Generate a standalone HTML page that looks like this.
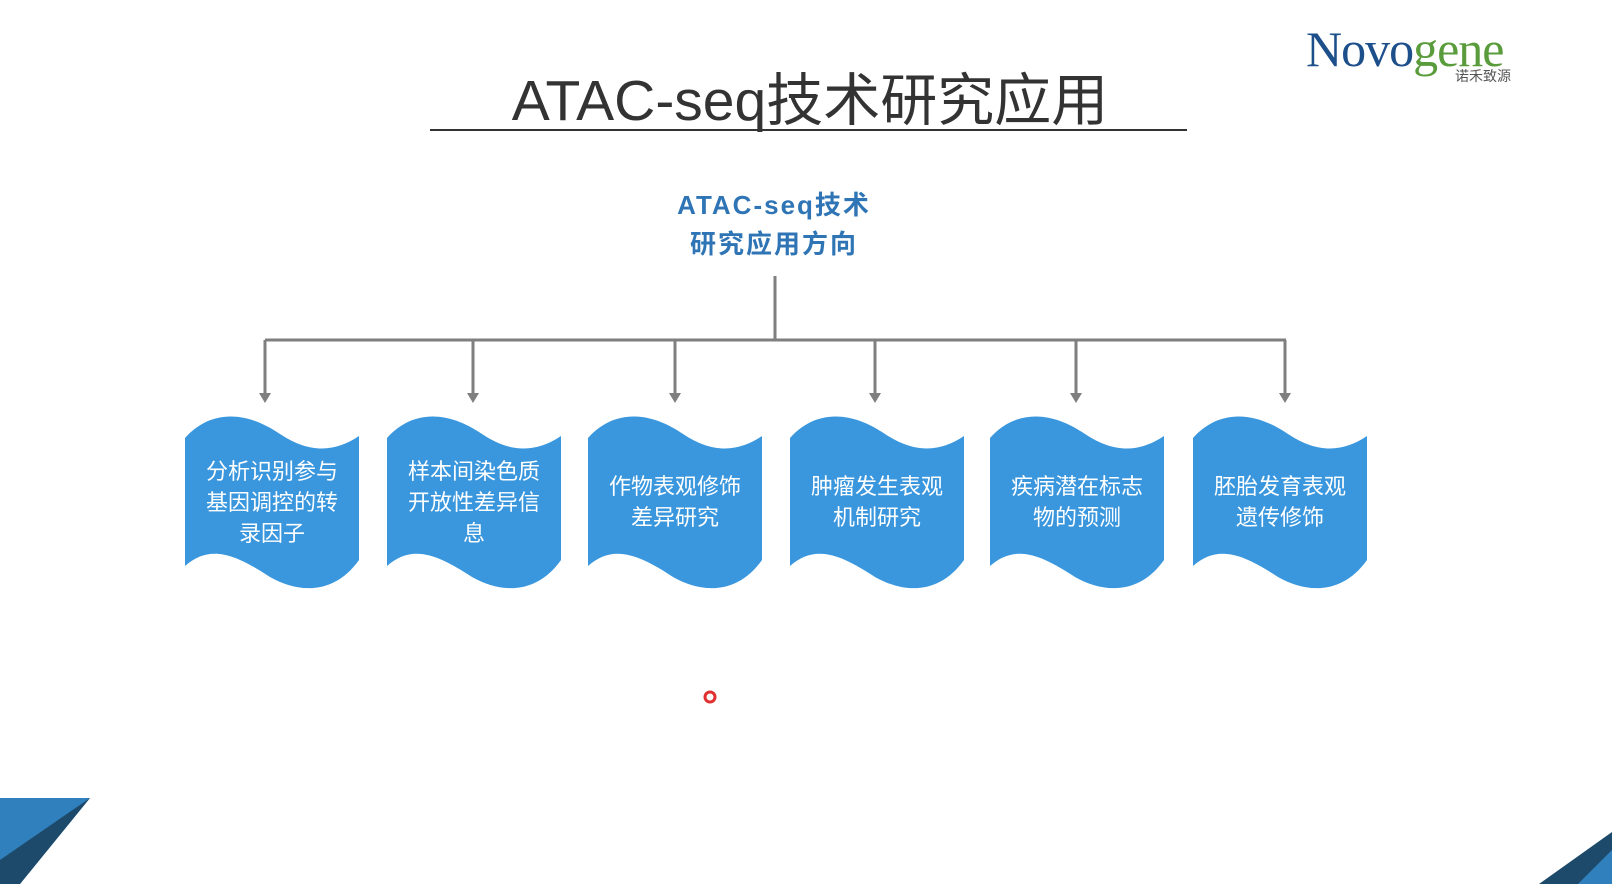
<!DOCTYPE html>
<html><head><meta charset="utf-8"><style>
body{margin:0;width:1612px;height:884px;background:#fff;position:relative;overflow:hidden;font-family:"Liberation Sans","Noto Sans CJK SC",sans-serif}
.t{position:absolute;white-space:nowrap}
</style></head><body>
<div class="t" style="left:4px;width:1612px;text-align:center;top:55px;font-size:57px;color:#333">ATAC-seq技术研究应用</div>
<div style="position:absolute;left:430px;top:129px;width:757px;height:2px;background:#333"></div>
<div class="t" style="left:574px;width:400px;text-align:center;top:186px;font-size:26px;font-weight:bold;color:#2f75b5;line-height:39px;letter-spacing:2px">ATAC-seq技术<br>研究应用方向</div>
<div class="t" style="left:1306px;top:20px;font-family:'Liberation Serif',serif;font-size:50px;color:#1d4f8a;letter-spacing:-1px">Novo<span style="color:#5a9c3c">gene</span></div>
<div class="t" style="left:1455px;top:66px;font-size:14px;color:#555">诺禾致源</div>
<svg width="1612" height="884" style="position:absolute;left:0;top:0">
<g stroke="#7f7f7f" stroke-width="3" fill="none">
<line x1="775" y1="276" x2="775" y2="340"/>
<line x1="265" y1="340" x2="1286" y2="340"/>
<line x1="265" y1="340" x2="265" y2="396"/><line x1="473" y1="340" x2="473" y2="396"/><line x1="675" y1="340" x2="675" y2="396"/><line x1="875" y1="340" x2="875" y2="396"/><line x1="1076" y1="340" x2="1076" y2="396"/><line x1="1285" y1="340" x2="1285" y2="396"/>
</g>
<g fill="#7f7f7f">
<path d="M259 393h12l-6 10z"/><path d="M467 393h12l-6 10z"/><path d="M669 393h12l-6 10z"/><path d="M869 393h12l-6 10z"/><path d="M1070 393h12l-6 10z"/><path d="M1279 393h12l-6 10z"/>
</g>
<defs><path id="w" d="M0 26 C25 -2,60 -2,95 22 C125 42,150 40,174 24 L174 148 C150 182,115 182,85 165 C50 142,25 132,0 154 Z" fill="#3a97de"/></defs>
<use href="#w" x="185" y="412"/><use href="#w" x="387" y="412"/><use href="#w" x="588" y="412"/><use href="#w" x="790" y="412"/><use href="#w" x="990" y="412"/><use href="#w" x="1193" y="412"/>
<circle cx="710" cy="697" r="5" fill="#fff" stroke="#e03030" stroke-width="3"/>
<path d="M0 798 L90 798 L20 884 L0 884Z" fill="#2f80bd"/>
<path d="M90 798 L20 884 L0 884 L0 860Z" fill="#1d4a6a"/>
<path d="M1612 832 L1612 884 L1539 884Z" fill="#1d4a6a"/>
<path d="M1612 850 L1612 884 L1578 884Z" fill="#2f80bd"/>
</svg>
<div class="t" style="left:185px;width:174px;text-align:center;top:456px;font-size:22px;color:#fff;line-height:31px">分析识别参与<br>基因调控的转<br>录因子</div>
<div class="t" style="left:387px;width:174px;text-align:center;top:456px;font-size:22px;color:#fff;line-height:31px">样本间染色质<br>开放性差异信<br>息</div>
<div class="t" style="left:588px;width:174px;text-align:center;top:471px;font-size:22px;color:#fff;line-height:31px">作物表观修饰<br>差异研究</div>
<div class="t" style="left:790px;width:174px;text-align:center;top:471px;font-size:22px;color:#fff;line-height:31px">肿瘤发生表观<br>机制研究</div>
<div class="t" style="left:990px;width:174px;text-align:center;top:471px;font-size:22px;color:#fff;line-height:31px">疾病潜在标志<br>物的预测</div>
<div class="t" style="left:1193px;width:174px;text-align:center;top:471px;font-size:22px;color:#fff;line-height:31px">胚胎发育表观<br>遗传修饰</div>
</body></html>
